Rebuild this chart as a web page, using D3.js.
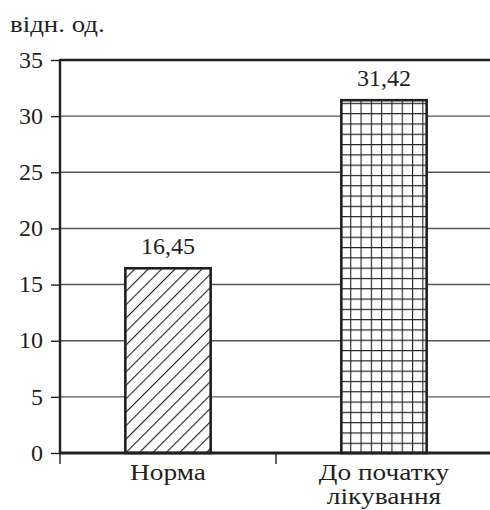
<!DOCTYPE html>
<html>
<head>
<meta charset="utf-8">
<script src="https://cdn.jsdelivr.net/npm/d3@7"></script>
</head>
<body style="margin:0">
<svg id="chart" width="490" height="510"></svg>
<script>
// chart data
var categories = ["Норма", "До початку|лікування"];
var values = [16.45, 31.42];
var valueLabels = ["16,45", "31,42"];
var yTicks = [0, 5, 10, 15, 20, 25, 30, 35];
var unitLabel = "відн. од.";

var svg = d3.select("#chart");
var mLeft = 60, mRight = 492, mTop = 60, mBottom = 453;
var ink = "#231f20";

function setFont(sel) {
  return sel.attr("font-family", "'Liberation Serif', serif").attr("font-size", 24).attr("fill", ink);
}

var x = d3.scaleBand().domain(categories).range([mLeft, mRight]);
var y = d3.scaleLinear().domain([0, 35]).range([mBottom, mTop]);

var defs = svg.append("defs");
// diagonal hatch
var hatch = defs.append("pattern")
    .attr("id", "hatch")
    .attr("patternUnits", "userSpaceOnUse")
    .attr("width", 9.5).attr("height", 9.5)
    .attr("patternTransform", "rotate(45)");
hatch.append("rect").attr("width", 9.5).attr("height", 9.5).attr("fill", "#fff");
hatch.append("line")
    .attr("x1", 0).attr("y1", 0).attr("x2", 0).attr("y2", 9.5)
    .attr("stroke", ink).attr("stroke-width", 2.2);

// grid pattern
var grid = defs.append("pattern")
    .attr("id", "grid")
    .attr("patternUnits", "userSpaceOnUse")
    .attr("width", 10.3).attr("height", 10.3)
    .attr("x", 0).attr("y", mBottom);
grid.append("rect").attr("width", 10.3).attr("height", 10.3).attr("fill", "#fff");
grid.append("path")
    .attr("d", "M0,0V10.3M0,0H10.3")
    .attr("stroke", ink).attr("stroke-width", 2.2);

var patterns = ["url(#hatch)", "url(#grid)"];

// gridlines
svg.append("g").selectAll("line")
    .data(yTicks.filter(function(d) { return d > 0 && d < 35; }))
    .enter().append("line")
    .attr("x1", mLeft).attr("x2", 490)
    .attr("y1", function(d) { return y(d); })
    .attr("y2", function(d) { return y(d); })
    .attr("stroke", "#555").attr("stroke-width", 1.4);

// top border line at 35
svg.append("line")
    .attr("x1", mLeft).attr("x2", 490)
    .attr("y1", y(35)).attr("y2", y(35))
    .attr("stroke", ink).attr("stroke-width", 2.4);

// bars
var barW = x.bandwidth() * 0.395;
svg.append("g").selectAll("rect")
    .data(values)
    .enter().append("rect")
    .attr("x", function(d, i) { return x(categories[i]) + (x.bandwidth() - barW) / 2; })
    .attr("y", function(d) { return y(d); })
    .attr("width", barW)
    .attr("height", function(d) { return y(0) - y(d); })
    .attr("fill", function(d, i) { return patterns[i]; })
    .attr("stroke", ink).attr("stroke-width", 2.6);

// value labels
svg.append("g").selectAll("text")
    .data(values)
    .enter().append("text")
    .attr("x", function(d, i) { return x(categories[i]) + x.bandwidth() / 2; })
    .attr("y", function(d) { return y(d) - 14; })
    .attr("text-anchor", "middle")
    .call(setFont)
    .text(function(d, i) { return valueLabels[i]; });

// y axis
var yAxis = svg.append("g")
    .attr("transform", "translate(" + mLeft + ",0)")
    .call(d3.axisLeft(y).tickValues(yTicks).tickSize(9).tickPadding(8).tickFormat(d3.format("d")));
yAxis.attr("font-family", "'Liberation Serif', serif").attr("font-size", 24);
yAxis.select(".domain").remove();
yAxis.selectAll(".tick line").attr("stroke", ink).attr("stroke-width", 1.4);
yAxis.selectAll(".tick text").call(setFont).attr("dy", "0.3em");
svg.append("line")
    .attr("x1", mLeft).attr("x2", mLeft).attr("y1", y(35) - 1).attr("y2", y(0))
    .attr("stroke", ink).attr("stroke-width", 2.4);

// x axis baseline
svg.append("line")
    .attr("x1", mLeft - 1).attr("x2", 490).attr("y1", mBottom).attr("y2", mBottom)
    .attr("stroke", ink).attr("stroke-width", 2.8);
// category separators below axis
svg.append("g").selectAll("line")
    .data(categories)
    .enter().append("line")
    .attr("x1", function(d) { return x(d); })
    .attr("x2", function(d) { return x(d); })
    .attr("y1", mBottom).attr("y2", mBottom + 11)
    .attr("stroke", ink).attr("stroke-width", 1.4);

// category labels (slightly widened face, as in the print)
var catText = svg.append("g").selectAll("text")
    .data(categories)
    .enter().append("text")
    .attr("transform", function(d) {
      return "translate(" + (x(d) + x.bandwidth() / 2) + "," + (mBottom + 27) + ") scale(1.14,1)";
    })
    .attr("text-anchor", "middle")
    .call(setFont);
catText.selectAll("tspan")
    .data(function(d) { return d.split("|"); })
    .enter().append("tspan")
    .attr("x", 0)
    .attr("dy", function(d, i) { return i ? 24 : 0; })
    .text(function(d) { return d; });

// unit label
svg.append("text")
    .attr("transform", "translate(10,32) scale(1.12,1)")
    .call(setFont)
    .text(unitLabel);
</script>
</body>
</html>
